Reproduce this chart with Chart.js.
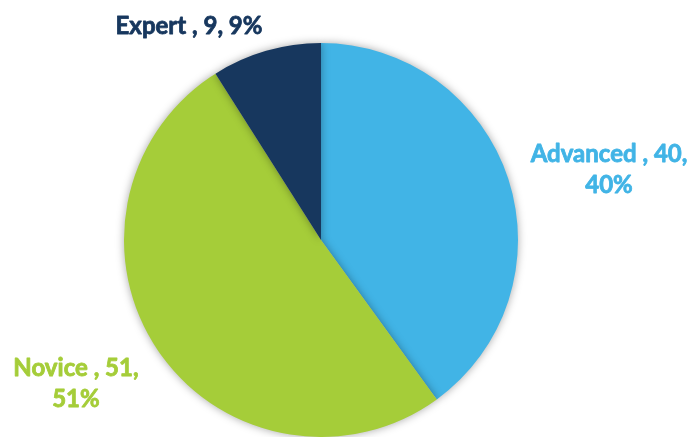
<!DOCTYPE html>
<html>
<head>
<meta charset="utf-8">
<script src="https://cdn.jsdelivr.net/npm/chart.js@4.4.1/dist/chart.umd.min.js"></script>
<style>
  html, body { margin: 0; padding: 0; background: #fff; }
  #wrap { width: 691px; height: 437px; position: relative; }
</style>
</head>
<body>
<div id="wrap"><canvas id="pie"></canvas></div>
<script>
// skill levels, clockwise from 12 o'clock
const levels = ['Advanced', 'Novice', 'Expert'];
const counts = [40, 51, 9];
const shares = [40, 51, 9];
const colours = ['#41B4E6', '#A5CD39', '#17375E'];

// where each callout sits, in units of the pie radius from its centre
const callouts = [
  { dx: 1.462, dy: -0.396, lines: 2 },
  { dx: -1.244, dy: 0.690, lines: 2 },
  { dx: -0.670, dy: -1.046, lines: 1 }
];

// soft drop shadow under the pie
const shadow = {
  id: 'shadow',
  beforeDatasetDraw(chart) {
    const ctx = chart.ctx;
    ctx.save();
    ctx.shadowColor = 'rgba(0,0,0,0.35)';
    ctx.shadowBlur = 9;
    ctx.shadowOffsetX = 0;
    ctx.shadowOffsetY = 0;
  },
  afterDatasetDraw(chart) {
    chart.ctx.restore();
  }
};

// "Name , value, pct%" labels in the slice colour
const callout = {
  id: 'callout',
  afterDatasetsDraw(chart) {
    const ctx = chart.ctx;
    const arcs = chart.getDatasetMeta(0).data;
    ctx.save();
    ctx.font = 'bold 24px Lato';
    ctx.textAlign = 'center';
    ctx.textBaseline = 'alphabetic';
    ctx.lineWidth = 0.8;
    ctx.lineJoin = 'round';
    const put = (s, x, y) => { ctx.fillText(s, x, y); ctx.strokeText(s, x, y); };
    arcs.forEach((arc, i) => {
      const c = callouts[i];
      const r = arc.outerRadius;
      const x = arc.x + c.dx * r;
      const y = arc.y + c.dy * r;
      ctx.fillStyle = colours[i];
      ctx.strokeStyle = colours[i];
      if (c.lines === 1) {
        put(levels[i] + ' , ' + counts[i] + ', ' + shares[i] + '%', x, y);
      } else {
        put(levels[i] + ' , ' + counts[i] + ',', x, y);
        put(shares[i] + '%', x, y + 31);
      }
    });
    ctx.restore();
  }
};

new Chart(document.getElementById('pie'), {
  type: 'pie',
  data: {
    labels: levels,
    datasets: [{
      data: counts,
      backgroundColor: colours,
      borderWidth: 0
    }]
  },
  options: {
    responsive: true,
    maintainAspectRatio: false,
    animation: false,
    layout: { padding: { top: 43, bottom: 0, left: 0, right: 49 } },
    plugins: {
      legend: { display: false },
      tooltip: { enabled: false }
    }
  },
  plugins: [shadow, callout]
});
</script>
</body>
</html>
